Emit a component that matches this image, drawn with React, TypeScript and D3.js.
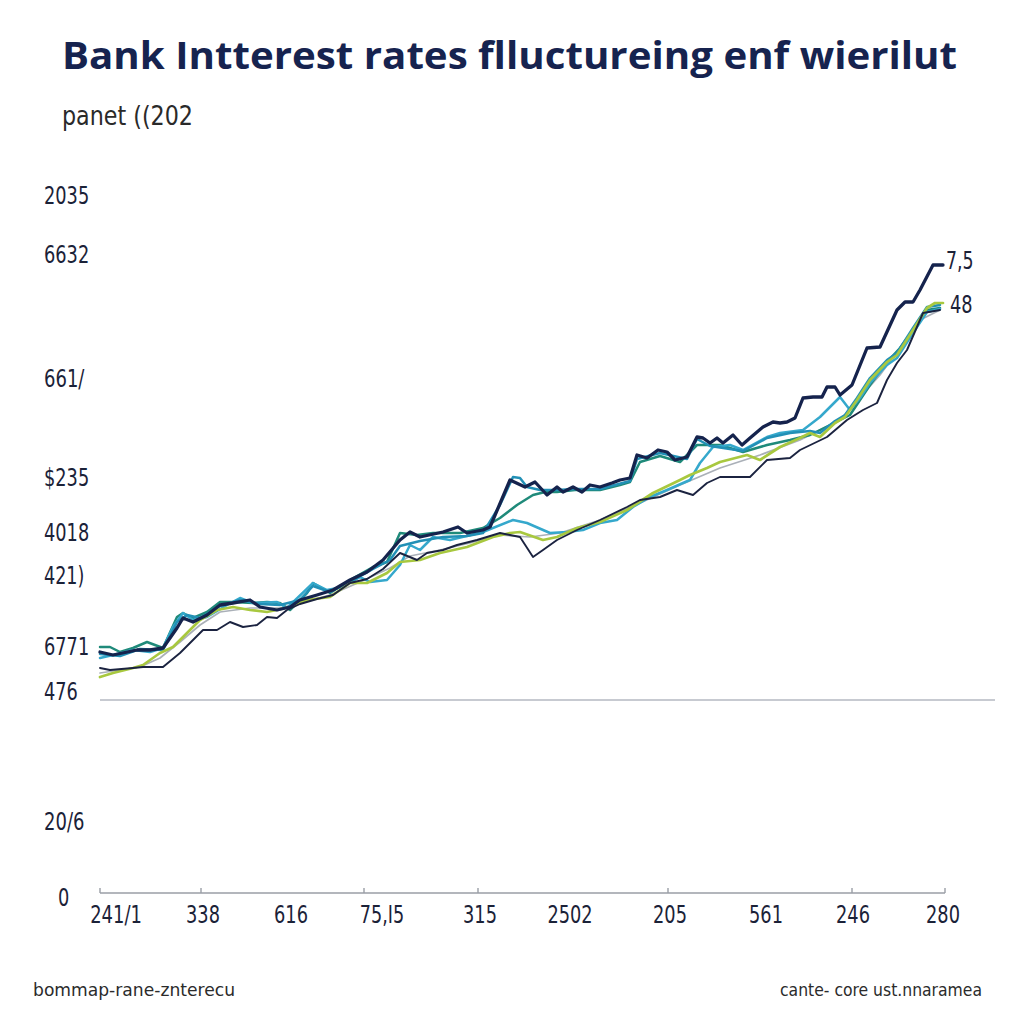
import React from "react";
import * as d3 from "d3";

// ---- data (x: month index, y: rate %) ----
const titleText = "Bank Intterest rates flluctureing enf wierilut";
const subtitleText = "panet ((202";
const footerLeft = "bommap-rane-znterecu";
const footerRight = "cante- core ust.nnaramea";

const yTickValues = [6.97, 6.38, 5.14, 4.15, 3.6, 3.17, 2.46, 2.01, 0.71];
const yTickLabels = ["2035", "6632", "661/", "$235", "4018", "421)", "6771", "476", "20/6"];
const zeroLabel = "0";
const zeroValue = -0.05;

const xTickValues = [1.6, 10.3, 19.1, 28.2, 38.0, 47.0, 57.0, 66.6, 75.3, 84.3];
const xTickLabels = ["241/1", "338", "616", "75,I5", "315", "2502", "205", "561", "246", "280"];
const xTickMarks = [0, 10.1, 26.4, 37.8, 56.8, 75.2, 84.5];

const refLineValue = 1.93;
const refLineEnd = 89.5;

const endLabelTop = "7,5";
const endLabelBottom = "48";

type P = [number, number];

const navyThick: P[] = [
  [0, 2.41], [1.3, 2.38], [3.7, 2.43], [5.0, 2.43], [6.3, 2.45], [7.7, 2.65], [8.3, 2.75], [9.3, 2.71],
  [10.7, 2.78], [12.0, 2.88], [13.3, 2.9], [15.0, 2.93], [16.0, 2.86], [17.7, 2.83], [19.0, 2.86], [20.0, 2.93],
  [21.7, 2.98], [23.3, 3.03], [25.0, 3.13], [26.7, 3.21], [28.3, 3.33], [30.0, 3.53], [31.0, 3.61], [32.0, 3.56],
  [34.3, 3.61], [35.8, 3.66], [36.7, 3.6], [38.3, 3.63], [39.0, 3.66], [41.0, 4.13], [42.5, 4.06], [43.5, 4.11],
  [44.7, 3.98], [45.7, 4.06], [46.3, 4.01], [47.3, 4.06], [48.2, 4.01], [49.0, 4.08], [50.0, 4.06], [51.2, 4.1],
  [52.0, 4.13], [53.0, 4.15], [53.7, 4.38], [54.7, 4.35], [55.8, 4.43], [56.7, 4.41], [57.5, 4.33], [58.7, 4.36],
  [59.7, 4.56], [60.3, 4.55], [61.0, 4.5], [61.7, 4.55], [62.3, 4.5], [63.3, 4.58], [64.2, 4.48], [65.0, 4.55],
  [66.3, 4.66], [67.3, 4.71], [68.0, 4.7], [68.7, 4.71], [69.5, 4.75], [70.3, 4.95], [71.3, 4.96], [72.2, 4.96],
  [72.7, 5.06], [73.5, 5.06], [74.0, 4.98], [75.2, 5.08], [76.7, 5.45], [78.0, 5.46], [79.7, 5.83], [80.5, 5.91],
  [81.3, 5.91], [82.0, 6.03], [83.3, 6.28], [84.3, 6.28],
];

const navyThin: P[] = [
  [0, 2.25], [1.0, 2.23], [3.3, 2.25], [4.3, 2.26], [6.3, 2.26], [8.0, 2.4], [10.3, 2.63], [11.7, 2.63],
  [13.0, 2.71], [14.3, 2.66], [15.7, 2.68], [16.7, 2.76], [17.7, 2.75], [18.7, 2.83], [20.0, 2.89], [21.7, 2.94],
  [23.3, 2.98], [25.0, 3.1], [26.7, 3.14], [28.3, 3.24], [30.0, 3.4], [31.7, 3.33], [32.7, 3.4], [34.3, 3.43],
  [35.7, 3.48], [37.7, 3.53], [40.0, 3.6], [41.0, 3.58], [42.0, 3.56], [43.3, 3.36], [44.3, 3.43], [45.7, 3.53],
  [47.7, 3.63], [50.0, 3.73], [52.7, 3.86], [54.0, 3.93], [56.0, 3.96], [57.7, 4.03], [59.3, 3.98], [60.7, 4.1],
  [62.0, 4.16], [65.0, 4.16], [66.7, 4.33], [69.0, 4.35], [70.0, 4.43], [72.7, 4.56], [74.7, 4.73], [76.3, 4.83],
  [77.7, 4.9], [78.7, 5.13], [79.7, 5.3], [80.7, 5.43], [82.3, 5.8], [84.0, 5.83],
];

const cyan: P[] = [
  [0, 2.35], [1.3, 2.38], [3.3, 2.43], [5.0, 2.41], [6.3, 2.45], [7.3, 2.66], [8.3, 2.8], [9.3, 2.73],
  [10.7, 2.76], [12.7, 2.88], [14.0, 2.95], [15.3, 2.9], [17.7, 2.91], [18.7, 2.85], [21.3, 3.1], [22.7, 3.03],
  [24.3, 3.06], [26.0, 3.16], [27.0, 3.11], [28.7, 3.13], [30.0, 3.28], [31.0, 3.48], [32.0, 3.43], [33.3, 3.56],
  [35.0, 3.53], [38.3, 3.61], [41.3, 3.73], [42.7, 3.7], [45.0, 3.6], [46.7, 3.61], [48.3, 3.63], [50.0, 3.7],
  [51.7, 3.73], [53.3, 3.86], [55.0, 3.96], [56.7, 4.03], [58.3, 4.1], [59.0, 4.13], [60.0, 4.3], [61.3, 4.46],
  [63.0, 4.48], [64.3, 4.43], [66.7, 4.56], [68.0, 4.6], [70.3, 4.63], [72.0, 4.76], [74.0, 4.96], [75.0, 4.83],
  [76.0, 4.95], [77.0, 5.1], [78.7, 5.28], [79.7, 5.35], [81.3, 5.6], [82.7, 5.81], [84.0, 5.84],
];

const blueTeal: P[] = [
  [0, 2.39], [2.0, 2.37], [4.0, 2.44], [6.3, 2.43], [7.7, 2.71], [8.7, 2.78], [10.0, 2.75], [12.0, 2.87],
  [14.0, 2.93], [16.0, 2.89], [18.0, 2.88], [20.0, 2.93], [21.3, 3.07], [23.0, 3.01], [25.0, 3.11], [27.3, 3.24],
  [29.0, 3.33], [30.0, 3.47], [32.0, 3.52], [34.3, 3.56], [36.7, 3.57], [38.3, 3.6], [40.0, 3.88], [41.3, 4.16],
  [42.0, 4.15], [42.7, 4.06], [44.0, 4.03], [45.7, 4.03], [47.5, 4.04], [50.0, 4.04], [53.0, 4.12], [53.7, 4.34],
  [56.0, 4.4], [58.7, 4.34], [59.7, 4.54], [61.0, 4.47], [64.3, 4.42], [66.7, 4.55], [69.0, 4.6], [71.0, 4.62],
  [72.0, 4.6], [73.5, 4.72], [74.5, 4.78], [75.7, 4.95], [77.0, 5.15], [78.7, 5.33], [79.7, 5.4], [81.3, 5.65],
  [82.7, 5.86], [84.0, 5.88],
];

const tealGreen: P[] = [
  [0, 2.46], [1.0, 2.46], [2.0, 2.41], [3.3, 2.45], [4.7, 2.51], [6.3, 2.45], [7.7, 2.76], [8.3, 2.8],
  [9.3, 2.75], [10.7, 2.81], [12.0, 2.91], [13.3, 2.91], [15.3, 2.9], [16.7, 2.91], [18.0, 2.9], [19.0, 2.83],
  [20.7, 3.0], [21.3, 3.1], [23.0, 3.0], [25.0, 3.13], [27.3, 3.26], [28.7, 3.31], [30.0, 3.6], [31.7, 3.58],
  [33.3, 3.6], [36.0, 3.6], [38.3, 3.65], [40.0, 3.75], [41.7, 3.88], [43.3, 3.98], [44.5, 4.01], [45.7, 4.01],
  [47.5, 4.03], [50.0, 4.03], [52.0, 4.08], [53.0, 4.11], [54.0, 4.31], [56.0, 4.37], [58.0, 4.31], [59.7, 4.48],
  [62.0, 4.48], [64.3, 4.41], [66.7, 4.48], [69.0, 4.53], [71.0, 4.58], [73.0, 4.68], [75.0, 4.78], [77.0, 5.08],
  [78.7, 5.31], [80.0, 5.45], [81.3, 5.63], [82.7, 5.83], [84.0, 5.85],
];

const lightGreen: P[] = [
  [0, 2.16], [1.3, 2.2], [3.3, 2.25], [4.3, 2.28], [6.0, 2.4], [7.3, 2.46], [8.7, 2.6], [10.0, 2.73],
  [11.7, 2.83], [13.3, 2.86], [15.0, 2.83], [16.7, 2.81], [19.0, 2.86], [20.7, 2.93], [23.0, 2.96], [25.0, 3.1],
  [26.7, 3.1], [28.7, 3.2], [30.0, 3.31], [32.0, 3.33], [34.0, 3.4], [36.7, 3.46], [39.3, 3.56], [41.0, 3.6],
  [42.0, 3.61], [44.3, 3.53], [45.7, 3.56], [47.7, 3.65], [50.0, 3.71], [52.7, 3.83], [55.3, 4.0], [58.0, 4.13],
  [59.0, 4.18], [60.7, 4.25], [62.0, 4.31], [64.7, 4.38], [66.0, 4.33], [68.0, 4.46], [70.0, 4.55], [71.0, 4.6],
  [72.0, 4.56], [73.5, 4.7], [74.5, 4.76], [75.7, 4.93], [77.0, 5.13], [78.7, 5.31], [79.7, 5.38], [81.3, 5.63],
  [82.7, 5.85], [83.5, 5.9], [84.3, 5.9],
];

const gray: P[] = [
  [0, 2.2], [2.0, 2.23], [4.0, 2.26], [6.0, 2.35], [8.0, 2.51], [10.0, 2.68], [12.0, 2.81], [15.0, 2.85],
  [18.0, 2.85], [20.0, 2.9], [23.0, 2.98], [26.0, 3.11], [29.0, 3.25], [31.0, 3.37], [34.0, 3.43], [37.0, 3.5],
  [40.0, 3.58], [43.0, 3.56], [46.0, 3.6], [50.0, 3.73], [54.0, 3.9], [58.0, 4.08], [62.0, 4.25], [66.0, 4.38],
  [70.0, 4.53], [74.0, 4.73], [78.0, 5.18], [82.0, 5.73], [84.0, 5.83],
];

const seriesList = [
  { name: "gray", data: gray, color: "#aab0b8", width: 1.7 },
  { name: "tealGreen", data: tealGreen, color: "#1f8a7a", width: 2.5 },
  { name: "cyan", data: cyan, color: "#35a8cc", width: 2.5 },
  { name: "blueTeal", data: blueTeal, color: "#2290b6", width: 2.5 },
  { name: "lightGreen", data: lightGreen, color: "#a8c83f", width: 2.7 },
  { name: "navyThin", data: navyThin, color: "#1b2340", width: 1.9 },
  { name: "navyThick", data: navyThick, color: "#15234d", width: 3.3 },
];

const NARROW = "'Liberation Sans Narrow', 'DejaVu Sans Condensed', 'Open Sans', sans-serif";

// approximate rendered width of a condensed label (px at 24px size)
function labelWidth(s: string): number {
  let w = 0;
  for (const ch of s) {
    if (/[0-9$]/.test(ch)) w += 11.3;
    else if (ch === "/" || ch === ")" || ch === "(") w += 6.5;
    else if (ch === "," || ch === ".") w += 5;
    else if (ch === "I") w += 5.5;
    else w += 10;
  }
  return w;
}

export default function App() {
  const x = d3.scaleLinear().domain([0, 84.5]).range([100, 945]);
  const y = d3.scaleLinear().domain([0, 7]).range([893, 193]);
  const line = d3
    .line<P>()
    .x((d) => x(d[0]))
    .y((d) => y(d[1]))
    .curve(d3.curveLinear);

  const lastThick = navyThick[navyThick.length - 1];
  const lastGreen = lightGreen[lightGreen.length - 1];

  const labelProps = (s: string) => ({
    fontFamily: NARROW,
    fontSize: 24,
    fill: "#1b2238",
    textLength: labelWidth(s),
    lengthAdjust: "spacingAndGlyphs" as const,
  });

  return (
    <svg
      width={1024}
      height={1024}
      style={{ position: "absolute", left: 0, top: 0, background: "#ffffff" }}
    >
      <rect x={0} y={0} width={1024} height={1024} fill="#ffffff" />
      <text
        x={62}
        y={69}
        fontFamily="'Open Sans', 'Noto Sans', sans-serif"
        fontWeight={700}
        fontSize={37}
        fill="#16234f"
        textLength={895}
        lengthAdjust="spacingAndGlyphs"
      >
        {titleText}
      </text>
      <text
        x={62}
        y={125}
        fontFamily={NARROW}
        fontSize={27}
        fill="#2a2a2a"
        textLength={131}
        lengthAdjust="spacingAndGlyphs"
      >
        {subtitleText}
      </text>

      {/* y tick labels */}
      {yTickValues.map((v, i) => (
        <text key={"yt" + i} x={44} y={y(v)} dy="0.35em" {...labelProps(yTickLabels[i])}>
          {yTickLabels[i]}
        </text>
      ))}
      <text x={58} y={y(zeroValue)} dy="0.35em" {...labelProps(zeroLabel)}>
        {zeroLabel}
      </text>

      {/* reference line */}
      <line
        x1={x(0)}
        x2={x(refLineEnd)}
        y1={y(refLineValue)}
        y2={y(refLineValue)}
        stroke="#b4b9c2"
        strokeWidth={1.6}
      />

      {/* x axis */}
      <line x1={x(0)} x2={x(84.5)} y1={y(0)} y2={y(0)} stroke="#9a9ea6" strokeWidth={1.6} />
      {xTickMarks.map((t, i) => (
        <line key={"xm" + i} x1={x(t)} x2={x(t)} y1={y(0) - 5} y2={y(0)} stroke="#9a9ea6" strokeWidth={1.4} />
      ))}
      {xTickValues.map((t, i) => (
        <text key={"xt" + i} x={x(t)} y={y(0) + 30} textAnchor="middle" {...labelProps(xTickLabels[i])}>
          {xTickLabels[i]}
        </text>
      ))}

      {/* series */}
      {seriesList.map((s) => (
        <path
          key={s.name}
          d={line(s.data) || ""}
          fill="none"
          stroke={s.color}
          strokeWidth={s.width}
          strokeLinejoin="round"
          strokeLinecap="round"
        />
      ))}

      {/* end labels */}
      <text x={x(lastThick[0]) + 3} y={y(lastThick[1]) + 4} {...labelProps(endLabelTop)}>
        {endLabelTop}
      </text>
      <text x={x(lastGreen[0]) + 7} y={y(lastGreen[1]) + 10} {...labelProps(endLabelBottom)}>
        {endLabelBottom}
      </text>

      {/* footer */}
      <text
        x={33}
        y={996}
        fontFamily="'DejaVu Sans Condensed', 'Liberation Sans Narrow', sans-serif"
        fontSize={17}
        fill="#2b2b2b"
        textLength={202}
        lengthAdjust="spacingAndGlyphs"
      >
        {footerLeft}
      </text>
      <text
        x={780}
        y={996}
        fontFamily="'DejaVu Sans Condensed', 'Liberation Sans Narrow', sans-serif"
        fontSize={17}
        fill="#2b2b2b"
        textLength={202}
        lengthAdjust="spacingAndGlyphs"
      >
        {footerRight}
      </text>
    </svg>
  );
}
